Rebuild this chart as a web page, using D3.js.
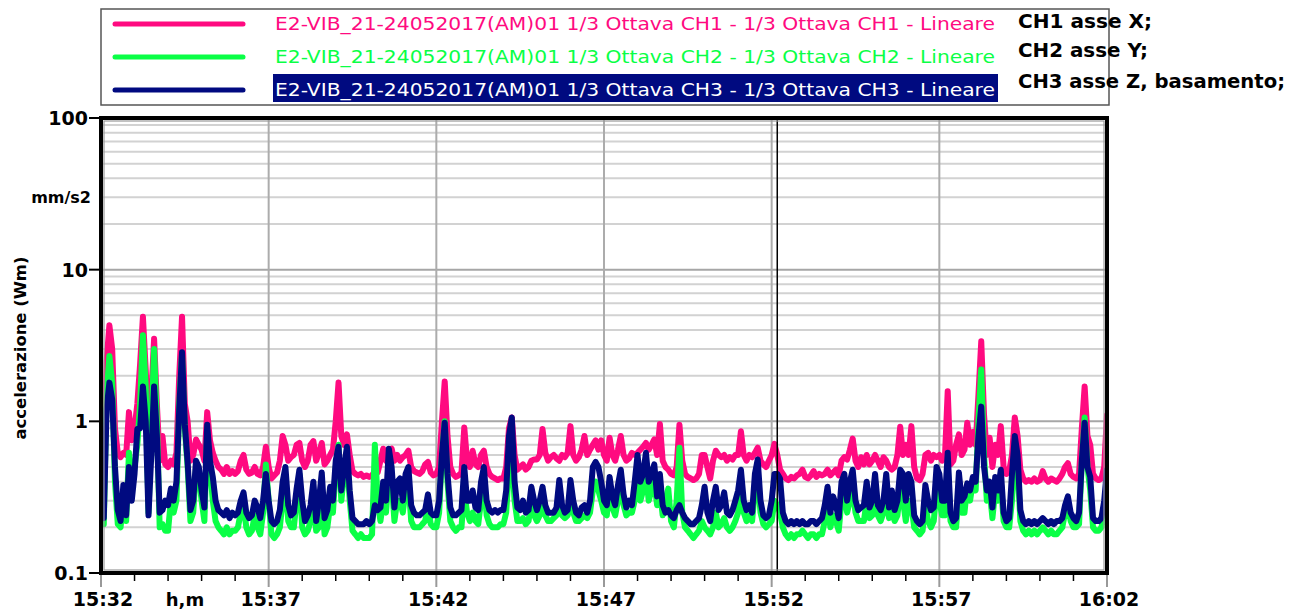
<!DOCTYPE html>
<html><head><meta charset="utf-8">
<script src="https://cdn.jsdelivr.net/npm/d3@7/dist/d3.min.js"></script>
<style>body{margin:0;background:#fff}svg{display:block}</style>
</head><body>
<svg id="chart" width="1300" height="611"></svg>
<script>
// ---------- DATA ----------
const startTime = "2017-05-24T15:32:00";
const endTime = "2017-05-24T16:02:00";
const stepSeconds = 5;
const majorStepMinutes = 5;
const cursorTime = "2017-05-24T15:52:10";

// CH1 (one row = one minute, 12 samples of 5 s)
const ch1 = [
 .9,.5,2.5,4.3,3.0,.9,.62,.58,.62,.6,1.15,.75,
 .9,1.3,2.4,4.9,2.2,.75,1.5,3.5,1.3,.55,.8,.52,
 .5,.55,.52,.62,2.0,4.9,1.3,1.0,.55,.6,.76,.7,
 .65,.55,1.15,.75,.62,.55,.5,.48,.45,.5,.45,.47,
 .45,.47,.55,.6,.48,.45,.46,.5,.45,.44,.5,.68,
 .5,.42,.44,.46,.55,.8,.7,.55,.58,.6,.7,.72,
 .55,.5,.55,.7,.74,.55,.62,.72,.52,.55,.6,.65,
 1.0,1.8,.8,.7,.82,.6,.47,.45,.44,.45,.43,.44,
 .43,.44,.47,.46,.55,.66,.55,.64,.66,.55,.6,.55,
 .58,.6,.64,.5,.47,.46,.45,.47,.52,.54,.46,.44,
 .45,.5,1.0,1.83,.8,.5,.45,.43,.44,.46,.91,.55,
 .5,.64,.52,.5,.6,.64,.5,.45,.43,.42,.41,.42,
 .42,.5,.9,1.06,.6,.48,.5,.52,.48,.5,.55,.56,
 .56,.6,.89,.62,.55,.58,.6,.57,.55,.6,.58,.62,
 .93,.6,.55,.58,.65,.8,.6,.65,.7,.75,.65,.75,
 .6,.55,.78,.6,.55,.65,.8,.6,.55,.57,.62,.6,
 .62,.65,.68,.72,.65,.7,.76,.6,.96,.55,.5,.48,
 .45,.44,.5,.95,.55,.45,.43,.42,.41,.42,.45,.6,
 .6,.5,.42,.55,.64,.6,.58,.6,.55,.58,.56,.6,
 .6,.86,.6,.55,.6,.58,.62,.67,.55,.52,.5,.55,
 .6,.71,.6,.48,.45,.42,.41,.43,.42,.44,.45,.48,
 .43,.42,.44,.47,.43,.45,.44,.45,.48,.44,.46,.48,
 .44,.55,.58,.56,.65,.77,.55,.5,.58,.52,.6,.52,
 .55,.6,.55,.5,.58,.55,.5,.48,.5,.6,.92,.6,
 .7,.6,.93,.5,.42,.41,.45,.6,.62,.55,.6,.58,
 .6,.55,.58,1.58,.52,.55,.7,.82,.6,.65,.98,.7,
 .85,.7,1.5,3.37,1.1,.6,.78,.5,.7,.6,.93,.5,
 .45,.47,.6,1.06,.8,.48,.42,.4,.41,.4,.42,.4,
 .41,.47,.42,.4,.42,.41,.4,.42,.45,.5,.53,.45,
 .43,.42,.45,.9,1.7,.8,.7,.45,.42,.41,.42,.5,
 1.1
];
// CH2
const ch2 = [
 .35,.21,1.5,2.7,1.8,.4,.21,.2,.3,.22,.62,.35,
 .5,.7,1.3,3.7,1.7,.25,.9,3.0,1.0,.2,.21,.19,
 .19,.3,.25,.3,1.3,2.8,.9,.5,.22,.25,.5,.45,
 .3,.22,.85,.5,.3,.22,.2,.19,.18,.2,.18,.19,
 .19,.2,.25,.28,.2,.18,.19,.24,.2,.18,.25,.52,
 .3,.18,.17,.18,.2,.3,.4,.22,.2,.2,.3,.45,
 .2,.18,.19,.22,.3,.19,.2,.35,.18,.2,.28,.25,
 .5,.7,.3,.45,.6,.3,.19,.18,.17,.18,.17,.17,
 .17,.18,.7,.3,.22,.3,.25,.45,.4,.22,.3,.3,
 .25,.35,.4,.22,.2,.2,.2,.21,.22,.28,.21,.2,
 .2,.25,.6,1.0,.4,.22,.2,.19,.2,.2,.35,.25,
 .22,.25,.22,.21,.3,.4,.24,.21,.2,.2,.2,.21,
 .21,.25,.5,.6,.3,.22,.22,.23,.21,.22,.3,.24,
 .22,.24,.3,.24,.22,.22,.23,.24,.3,.24,.23,.24,
 .3,.25,.22,.22,.23,.24,.23,.25,.35,.4,.35,.3,
 .25,.24,.35,.27,.24,.3,.4,.28,.24,.25,.25,.3,
 .4,.3,.35,.45,.3,.35,.4,.28,.35,.24,.3,.36,
 .22,.2,.3,.67,.25,.2,.19,.18,.17,.18,.19,.22,
 .2,.19,.18,.2,.25,.2,.21,.23,.2,.19,.2,.22,
 .25,.35,.25,.22,.24,.22,.35,.45,.25,.21,.2,.21,
 .22,.3,.28,.25,.2,.18,.17,.18,.17,.18,.18,.19,
 .18,.17,.18,.18,.17,.18,.18,.22,.28,.2,.24,.22,
 .19,.3,.35,.25,.3,.35,.25,.22,.22,.22,.3,.23,
 .24,.32,.24,.22,.25,.32,.23,.26,.22,.24,.35,.3,
 .22,.3,.28,.2,.19,.18,.19,.28,.22,.2,.22,.35,
 .3,.24,.24,.5,.22,.2,.2,.35,.25,.25,.38,.3,
 .4,.35,1.0,2.2,.6,.3,.35,.23,.35,.3,.4,.22,
 .2,.2,.3,.6,.5,.22,.19,.18,.19,.18,.19,.18,
 .19,.2,.19,.18,.19,.18,.18,.19,.2,.25,.28,.22,
 .2,.2,.21,.55,1.06,.5,.35,.2,.19,.19,.2,.25,
 .4
];
// CH3
const ch3 = [
 .3,.23,1.2,1.8,1.4,.5,.26,.22,.38,.24,.5,.3,
 .45,.89,.9,1.7,1.0,.24,.6,1.7,.8,.25,.26,.3,
 .28,.36,.3,.4,1.2,2.85,.95,.54,.26,.3,.55,.5,
 .35,.27,.95,.55,.43,.3,.26,.25,.24,.26,.23,.25,
 .24,.25,.3,.34,.25,.23,.24,.3,.27,.23,.3,.45,
 .3,.22,.21,.22,.26,.4,.5,.28,.24,.25,.36,.48,
 .3,.22,.24,.28,.4,.22,.3,.46,.23,.26,.37,.3,
 .55,.68,.35,.5,.68,.35,.23,.22,.21,.21,.21,.22,
 .21,.22,.28,.26,.27,.4,.3,.66,.5,.27,.4,.42,
 .3,.45,.5,.28,.25,.24,.24,.25,.26,.33,.25,.24,
 .24,.3,.6,.98,.45,.27,.24,.24,.25,.26,.5,.3,
 .3,.35,.27,.26,.4,.5,.3,.26,.25,.26,.25,.26,
 .26,.35,.8,1.06,.4,.27,.26,.3,.25,.26,.37,.3,
 .26,.3,.37,.28,.25,.25,.25,.27,.41,.28,.25,.26,
 .41,.3,.25,.24,.27,.28,.25,.3,.5,.54,.5,.4,
 .3,.28,.43,.32,.28,.38,.48,.33,.27,.3,.28,.4,
 .6,.4,.45,.62,.4,.45,.52,.32,.45,.28,.25,.26,
 .24,.23,.26,.28,.25,.23,.22,.21,.21,.22,.23,.28,
 .37,.25,.22,.3,.37,.26,.28,.34,.25,.24,.26,.3,
 .35,.48,.3,.26,.28,.25,.45,.56,.3,.24,.23,.24,
 .3,.45,.45,.42,.25,.22,.21,.22,.21,.22,.21,.22,
 .21,.21,.22,.22,.21,.22,.23,.28,.37,.25,.32,.28,
 .23,.4,.45,.3,.4,.48,.3,.26,.27,.28,.4,.27,
 .3,.45,.28,.26,.3,.45,.27,.35,.26,.3,.48,.45,
 .3,.45,.4,.24,.22,.21,.22,.38,.3,.26,.27,.5,
 .45,.3,.3,.62,.25,.22,.23,.46,.3,.32,.39,.35,
 .43,.4,.8,1.25,.5,.35,.4,.27,.43,.35,.48,.25,
 .22,.23,.45,.8,.6,.26,.22,.21,.22,.21,.22,.21,
 .22,.23,.22,.21,.22,.21,.22,.22,.23,.28,.32,.25,
 .23,.22,.25,.55,.98,.5,.43,.23,.22,.22,.23,.3,
 .48
];

const seriesNames = [
 "E2-VIB_21-24052017(AM)01 1/3 Ottava CH1 - 1/3 Ottava CH1 - Lineare",
 "E2-VIB_21-24052017(AM)01 1/3 Ottava CH2 - 1/3 Ottava CH2 - Lineare",
 "E2-VIB_21-24052017(AM)01 1/3 Ottava CH3 - 1/3 Ottava CH3 - Lineare"
];
const seriesColors = ["#ff0a80", "#0aff46", "#000a80"];
const axisNotes = ["CH1 asse X;", "CH2 asse Y;", "CH3 asse Z, basamento;"];
const yTickValues = [0.1, 1, 10, 100];
const yTickLabels = ["0.1", "1", "10", "100"];
const xTickLabels = ["15:32", "15:37", "15:42", "15:47", "15:52", "15:57", "16:02"];
const yUnit = "mm/s2";
const yTitle = "accelerazione (Wm)";
const xUnit = "h,m";

// ---------- CHART ----------
const svg = d3.select("#chart");
const FONT = "'DejaVu Sans', 'Liberation Sans', sans-serif";
const L = 101, R = 1107, T = 118, B = 573;
const t0 = new Date(startTime), t1 = new Date(endTime);
const x = d3.scaleTime().domain([t0, t1]).range([L, R]);
const y = d3.scaleLog().domain([0.1, 100]).range([B, T]);

const timeAt = i => new Date(t0.getTime() + i * stepSeconds * 1000);
const totalMinutes = Math.round((t1 - t0) / 60000);
const minuteTimes = d3.range(0, totalMinutes + 1).map(m => d3.timeMinute.offset(t0, m));
const isMajor = (d, i) => i % majorStepMinutes === 0;
const majorTimes = minuteTimes.filter(isMajor);

// horizontal grid (minor)
const minorVals = [];
[0.1, 1, 10].forEach(d => { for (let m = 2; m <= 9; m++) minorVals.push(d * m); });
svg.append("g").selectAll("line").data(minorVals).join("line")
  .attr("x1", L).attr("x2", R).attr("y1", d => y(d)).attr("y2", d => y(d))
  .attr("stroke", "#d2d2d2").attr("stroke-width", 2);
// decade grid
svg.append("g").selectAll("line").data([1, 10]).join("line")
  .attr("x1", L).attr("x2", R).attr("y1", d => y(d)).attr("y2", d => y(d))
  .attr("stroke", "#a6a6a6").attr("stroke-width", 2);

// vertical grid every 5 minutes
svg.append("g").selectAll("line").data(majorTimes).join("line")
  .attr("x1", d => x(d)).attr("x2", d => x(d)).attr("y1", T).attr("y2", B)
  .attr("stroke", "#acacac").attr("stroke-width", 2);

// series
const line = d3.line().x((d, i) => x(timeAt(i))).y(d => y(d)).curve(d3.curveLinear);
svg.append("clipPath").attr("id", "clip").append("rect")
  .attr("x", L).attr("y", T).attr("width", R - L).attr("height", B - T);
const gSeries = svg.append("g").attr("clip-path", "url(#clip)");
[ch1, ch2, ch3].forEach((s, k) => {
  gSeries.append("path").datum(s).attr("d", line)
    .attr("fill", "none").attr("stroke", seriesColors[k]).attr("stroke-width", 6)
    .attr("stroke-linejoin", "round").attr("stroke-linecap", "round");
});

// cursor line
svg.append("line").attr("x1", x(new Date(cursorTime))).attr("x2", x(new Date(cursorTime)))
  .attr("y1", T).attr("y2", B).attr("stroke", "#000").attr("stroke-width", 1.5);

// frame
svg.append("rect").attr("x", L + 3).attr("y", T + 3).attr("width", R - L - 6).attr("height", B - T - 6)
  .attr("fill", "none").attr("stroke", "#9a9a9a").attr("stroke-width", 1.2);
svg.append("rect").attr("x", L).attr("y", T).attr("width", R - L).attr("height", B - T)
  .attr("fill", "none").attr("stroke", "#000").attr("stroke-width", 4);

// x axis ticks
svg.append("g").selectAll("line").data(minuteTimes).join("line")
  .attr("x1", d => x(d)).attr("x2", d => x(d))
  .attr("y1", B + 2).attr("y2", (d, i) => isMajor(d, i) ? B + 14 : B + 8)
  .attr("stroke", (d, i) => isMajor(d, i) ? "#999" : "#000")
  .attr("stroke-width", (d, i) => isMajor(d, i) ? 2 : 1.5);
svg.append("g").selectAll("text").data(majorTimes).join("text")
  .attr("x", d => x(d) + 2).attr("y", 606).attr("text-anchor", "middle")
  .attr("font-family", FONT).attr("font-weight", "bold").attr("font-size", 19)
  .text((d, i) => xTickLabels[i]);
svg.append("text").attr("x", 185).attr("y", 606).attr("text-anchor", "middle")
  .attr("font-family", FONT).attr("font-weight", "bold").attr("font-size", 18).text(xUnit);

// y axis ticks
svg.append("g").selectAll("line").data(yTickValues).join("line")
  .attr("x1", L - 12).attr("x2", L).attr("y1", d => y(d)).attr("y2", d => y(d))
  .attr("stroke", "#000").attr("stroke-width", 2);
svg.append("g").selectAll("text").data(yTickValues).join("text")
  .attr("x", 88).attr("y", d => y(d) + 7).attr("text-anchor", "end")
  .attr("font-family", FONT).attr("font-weight", "bold").attr("font-size", 19)
  .text((d, i) => yTickLabels[i]);
svg.append("text").attr("x", 91).attr("y", 203).attr("text-anchor", "end")
  .attr("font-family", FONT).attr("font-weight", "bold").attr("font-size", 16).text(yUnit);
svg.append("text").attr("transform", "translate(26,348) rotate(-90)").attr("text-anchor", "middle")
  .attr("font-family", FONT).attr("font-weight", "bold").attr("font-size", 16)
  .attr("textLength", 183).attr("lengthAdjust", "spacingAndGlyphs").text(yTitle);

// legend
svg.append("rect").attr("x", 101).attr("y", 9).attr("width", 1008).attr("height", 96)
  .attr("fill", "#fff").attr("stroke", "#555").attr("stroke-width", 1.5);
const rowY = [24, 57, 90];
seriesNames.forEach((name, k) => {
  svg.append("line").attr("x1", 115).attr("x2", 243).attr("y1", rowY[k]).attr("y2", rowY[k])
    .attr("stroke", seriesColors[k]).attr("stroke-width", 5).attr("stroke-linecap", "round");
  if (k === 2) {
    svg.append("rect").attr("x", 273).attr("y", rowY[k] - 16).attr("width", 725).attr("height", 28)
      .attr("fill", seriesColors[k]);
  }
  svg.append("text").attr("x", 275).attr("y", rowY[k] + 6)
    .attr("font-family", FONT).attr("font-size", 18)
    .attr("fill", k === 2 ? "#fff" : seriesColors[k])
    .attr("textLength", 720).attr("lengthAdjust", "spacingAndGlyphs").text(name);
});
const noteY = [28, 57, 88];
const noteW = [134, 130, 267];
axisNotes.forEach((t, k) => {
  svg.append("text").attr("x", 1018).attr("y", noteY[k])
    .attr("font-family", FONT).attr("font-weight", "bold").attr("font-size", 20)
    .attr("textLength", noteW[k]).attr("lengthAdjust", "spacingAndGlyphs").text(t);
});
</script>
</body></html>
